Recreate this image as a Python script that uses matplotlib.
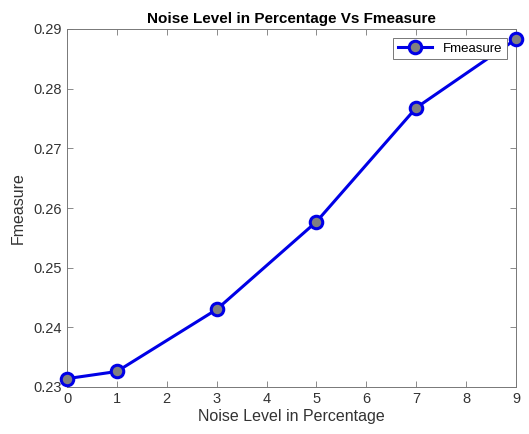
import matplotlib.pyplot as plt
import numpy as np

plt.rcParams['font.family'] = ['Liberation Sans', 'DejaVu Sans']

noise_levels = [0, 1, 3, 5, 7, 9]
fmeasure = [0.2314, 0.2326, 0.2430, 0.2577, 0.2768, 0.2883]

fig = plt.figure(figsize=(5.29, 4.34), dpi=100)
ax = fig.add_axes([67 / 529, 1 - 387 / 434, (516 - 67) / 529, (387 - 29) / 434])

ax.plot(noise_levels, fmeasure, color='#0000e6', linewidth=2.2, marker='o',
        markersize=9, markerfacecolor='#808080', markeredgecolor='#0000e6',
        markeredgewidth=2.2, label='Fmeasure', clip_on=False, zorder=3)

ax.set_xlim(0, 9)
ax.set_ylim(0.23, 0.29)
ax.set_xticks(np.arange(0, 10, 1))
ax.set_yticks(np.arange(0.23, 0.2901, 0.01))
ax.set_yticklabels(['0.23', '0.24', '0.25', '0.26', '0.27', '0.28', '0.29'])

ax.tick_params(direction='in', top=True, right=True, labelsize=10.5,
               colors='#777777', length=4, width=0.6, labelcolor='#333333')
for s in ax.spines.values():
    s.set_color('#777777')
    s.set_linewidth(0.7)

ax.set_title('Noise Level in Percentage Vs Fmeasure', fontsize=11,
             fontweight='bold', pad=4)
ax.set_xlabel('Noise Level in Percentage', fontsize=11.5, color='#333333', labelpad=2)
ax.set_ylabel('Fmeasure', fontsize=11.5, color='#333333', labelpad=6)

leg = ax.legend(loc='upper right', fontsize=9.5, fancybox=False, framealpha=1,
                edgecolor='#777777', borderpad=0.35, handlelength=2.6,
                borderaxespad=0, bbox_to_anchor=(0.98, 0.975))
leg.get_frame().set_linewidth(0.7)

fig.savefig('out.png', dpi=100)
